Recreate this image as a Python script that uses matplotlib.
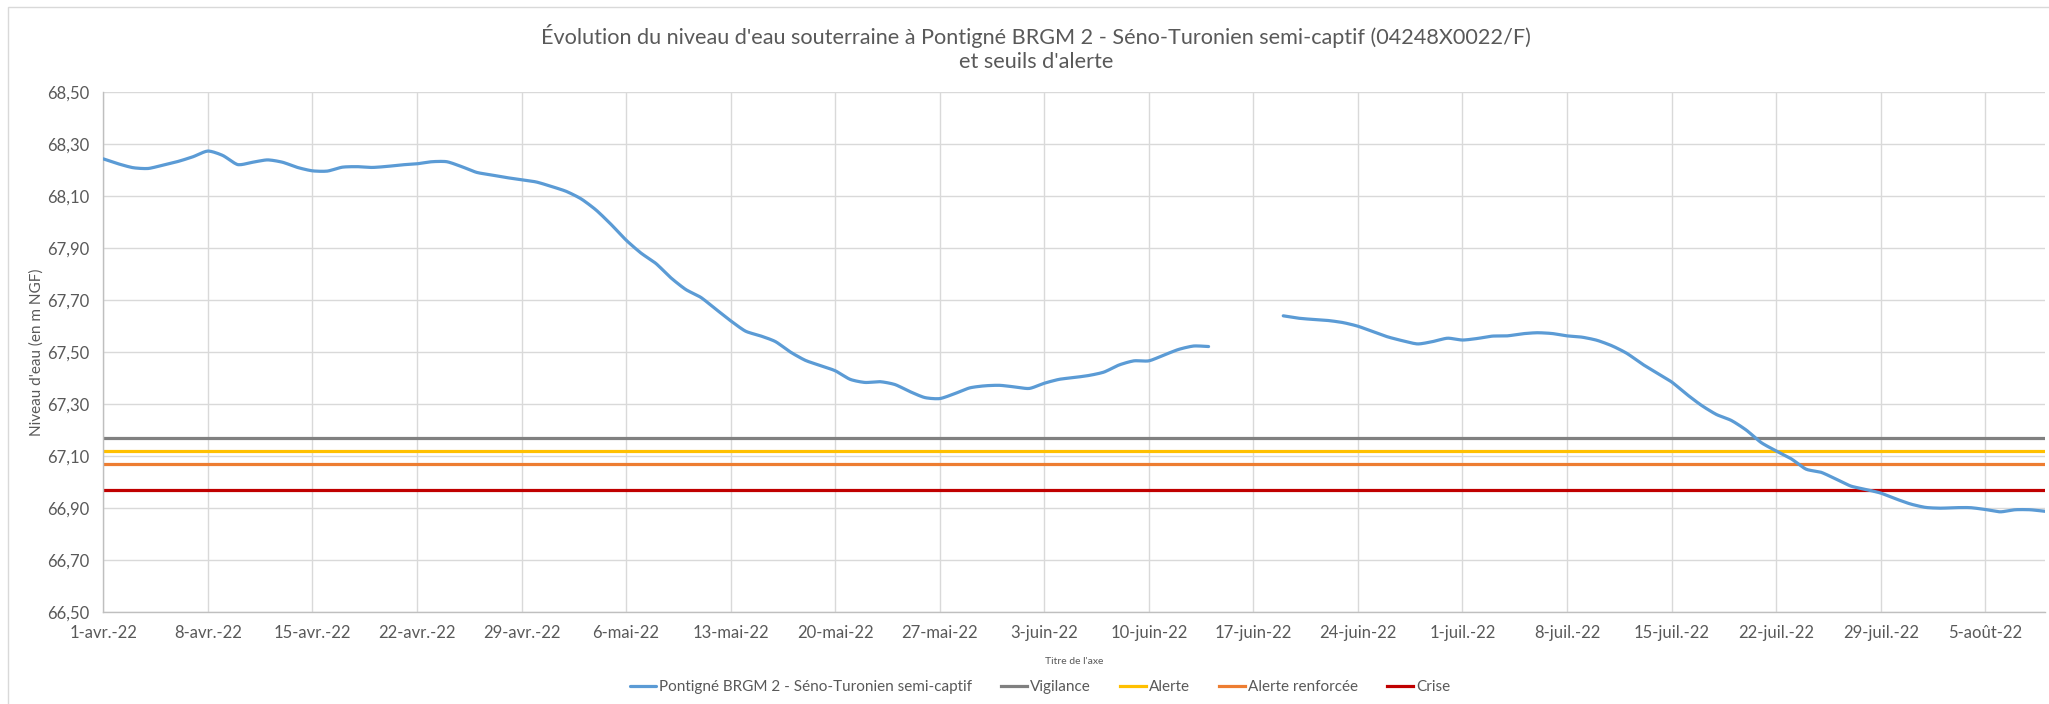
import numpy as np
import pandas as pd
import matplotlib
matplotlib.use("Agg")
import matplotlib.pyplot as plt
import matplotlib.dates as mdates
from matplotlib.patches import Rectangle

plt.rcParams['font.family'] = ['Lato', 'DejaVu Sans']

# ---------------- data ----------------
start_date = "2022-04-01"
end_date = "2022-08-09"

niveau = [
    68.242, 68.223, 68.208, 68.205, 68.218, 68.232, 68.250, 68.272, 68.255, 68.220,
    68.229, 68.238, 68.229, 68.209, 68.196, 68.195, 68.210, 68.212, 68.209, 68.213,
    68.219, 68.223, 68.231, 68.231, 68.212, 68.190, 68.180, 68.170, 68.162, 68.153,
    68.136, 68.117, 68.088, 68.045, 67.990, 67.930, 67.880, 67.840, 67.785, 67.740,
    67.710, 67.665, 67.620, 67.580, 67.562, 67.540, 67.500, 67.468, 67.448, 67.428,
    67.395, 67.383, 67.386, 67.375, 67.348, 67.325, 67.321, 67.340, 67.362, 67.370,
    67.372, 67.366, 67.360, 67.380, 67.395, 67.402, 67.410, 67.423, 67.450, 67.466,
    67.466, 67.488, 67.510, 67.523, 67.521, None, None, None, None, 67.639,
    67.630, 67.625, 67.621, 67.613, 67.599, 67.578, 67.558, 67.543, 67.531, 67.540,
    67.553, 67.546, 67.552, 67.561, 67.562, 67.570, 67.574, 67.571, 67.562, 67.557,
    67.545, 67.524, 67.495, 67.455, 67.420, 67.385, 67.338, 67.295, 67.260, 67.237,
    67.200, 67.152, 67.120, 67.090, 67.050, 67.038, 67.012, 66.985, 66.972, 66.958,
    66.936, 66.916, 66.903, 66.900, 66.902, 66.902, 66.895, 66.886, 66.894, 66.894,
    66.888,
]

seuil_noms = ["Vigilance", "Alerte", "Alerte renforcée", "Crise"]
seuil_valeurs = [67.17, 67.12, 67.07, 66.97]
seuil_couleurs = ["#808080", "#FFC000", "#ED7D31", "#C00000"]

serie_nom = "Pontigné BRGM 2 - Séno-Turonien semi-captif"

tick_labels = ["1-avr.-22", "8-avr.-22", "15-avr.-22", "22-avr.-22", "29-avr.-22",
               "6-mai-22", "13-mai-22", "20-mai-22", "27-mai-22", "3-juin-22",
               "10-juin-22", "17-juin-22", "24-juin-22", "1-juil.-22", "8-juil.-22",
               "15-juil.-22", "22-juil.-22", "29-juil.-22", "5-août-22"]
y_ticks = [66.50, 66.70, 66.90, 67.10, 67.30, 67.50, 67.70, 67.90, 68.10, 68.30, 68.50]

titre = ("Évolution du niveau d'eau souterraine à Pontigné BRGM 2 - Séno-Turonien "
         "semi-captif (04248X0022/F)\net seuils d'alerte")


def smooth_segment(x, y, n=12):
    """Catmull-Rom rendering of a line through the given points (display smoothing)."""
    if len(x) < 3:
        return x, y
    xs, ys = [], []
    P = np.column_stack([x, y])
    P = np.vstack([P[0], P, P[-1]])
    t = np.linspace(0, 1, n, endpoint=False)
    for i in range(1, len(P) - 2):
        p0, p1, p2, p3 = P[i - 1], P[i], P[i + 1], P[i + 2]
        m1 = (p2 - p0) / 2 * 0.7
        m2 = (p3 - p1) / 2 * 0.7
        h00 = 2 * t**3 - 3 * t**2 + 1
        h10 = t**3 - 2 * t**2 + t
        h01 = -2 * t**3 + 3 * t**2
        h11 = t**3 - t**2
        seg = (np.outer(h00, p1) + np.outer(h10, m1) + np.outer(h01, p2) + np.outer(h11, m2))
        xs.append(seg[:, 0]); ys.append(seg[:, 1])
    xs.append([P[-2][0]]); ys.append([P[-2][1]])
    return np.concatenate(xs), np.concatenate(ys)


# ---------------- figure ----------------
dates = pd.date_range(start_date, end_date, freq="D")
xnum = mdates.date2num(dates.to_pydatetime())
vals = np.array([np.nan if v is None else v for v in niveau], dtype=float)

W, H = 2049, 704
fig = plt.figure(figsize=(W / 100, H / 100), dpi=100)
fig.patch.set_facecolor("white")

fig.add_artist(Rectangle((8 / W, -0.05), 1.2, 1 - 7 / H + 0.05, transform=fig.transFigure,
                         fill=False, edgecolor="#D9D9D9", linewidth=1.0))

ax = fig.add_axes([103.3 / W, 91.7 / H, (2045 - 103.3) / W, (612.3 - 91.7) / H])

text_col = "#595959"
grid_col = "#D9D9D9"

# series drawn segment by segment (gap where no data)
valid = ~np.isnan(vals)
idx = np.where(valid)[0]
breaks = np.where(np.diff(idx) > 1)[0]
segments = np.split(idx, breaks + 1)
ln_series = None
for k, seg in enumerate(segments):
    sx, sy = smooth_segment(xnum[seg], vals[seg])
    h, = ax.plot(sx, sy, color="#5B9BD5", linewidth=2.3, solid_capstyle="round",
                 solid_joinstyle="round", label=serie_nom if k == 0 else None, zorder=3)
    if ln_series is None:
        ln_series = h

handles = [ln_series]
for nom, v, c in zip(seuil_noms, seuil_valeurs, seuil_couleurs):
    h, = ax.plot([xnum[0], xnum[-1]], [v, v], color=c, linewidth=2.3, label=nom, zorder=2)
    handles.append(h)

ax.set_xlim(xnum[0], xnum[-1])
ax.set_ylim(66.5, 68.5)

tick_dates = mdates.date2num(pd.date_range(start_date, periods=len(tick_labels), freq="7D").to_pydatetime())
ax.set_xticks(tick_dates)
ax.set_xticklabels(tick_labels)
ax.set_yticks(y_ticks)
ax.set_yticklabels([f"{t:.2f}".replace(".", ",") for t in y_ticks])

ax.tick_params(axis="both", length=0, colors=text_col, labelsize=12)
ax.tick_params(axis="x", pad=9)
ax.tick_params(axis="y", pad=10)
ax.grid(True, color=grid_col, linewidth=1.0, zorder=0)
ax.set_axisbelow(True)
for s in ["top", "right"]:
    ax.spines[s].set_visible(False)
for s in ["left", "bottom"]:
    ax.spines[s].set_color("#BFBFBF")
    ax.spines[s].set_linewidth(1.0)

fig.text(37 / W, 1 - 352 / H, "Niveau d'eau (en m NGF)", rotation=90, ha="center",
         va="center", color=text_col, fontsize=11)
ax.set_xlabel("Titre de l'axe", color=text_col, fontsize=7.5, labelpad=12)

fig.text(1036 / W, 1 - 48 / H, titre, ha="center", va="center", fontsize=15.6,
         color=text_col, linespacing=1.2)

leg = fig.legend(handles=handles, loc="center", bbox_to_anchor=(1040 / W, 1 - 687 / H),
                 ncol=5, frameon=False, fontsize=11, handlelength=1.7, handletextpad=0.2,
                 columnspacing=1.9)
for t in leg.get_texts():
    t.set_color(text_col)

fig.savefig("out.png", dpi=100, facecolor="white")
